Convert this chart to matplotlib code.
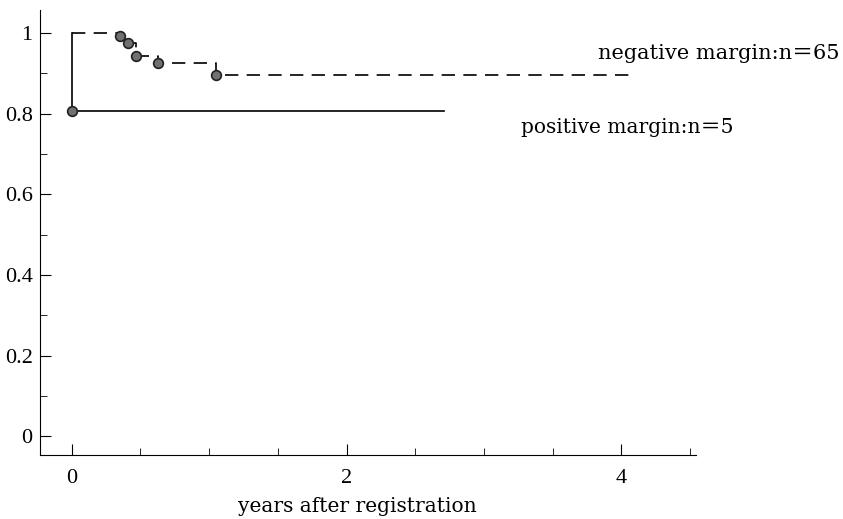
import matplotlib

matplotlib.use("Agg")
import matplotlib.pyplot as plt
from matplotlib.ticker import MultipleLocator

# negative margin (dashed step curve) and its marks
neg_t = [0.0, 0.35, 0.41, 0.47, 0.63, 1.05, 4.09]
neg_s = [1.0, 0.993, 0.975, 0.943, 0.925, 0.895, 0.895]
neg_mark_t = [0.35, 0.41, 0.47, 0.63, 1.05]
neg_mark_s = [0.993, 0.975, 0.943, 0.925, 0.895]

# positive margin (solid step curve)
pos_t = [0.0, 0.0, 2.71]
pos_s = [1.0, 0.806, 0.806]
pos_mark_t = [0.0]
pos_mark_s = [0.806]

y_ticks = [0, 0.2, 0.4, 0.6, 0.8, 1.0]
y_tick_labels = ["0", "0.2", "0.4", "0.6", "0.8", "1"]
x_ticks = [0, 2, 4]
x_tick_labels = ["0", "2", "4"]

plt.rcParams["font.family"] = ["Liberation Serif", "Noto Sans CJK JP", "DejaVu Sans"]
text_font = ["DejaVu Serif", "Noto Sans CJK JP"]

fig = plt.figure(figsize=(8.43, 5.19), dpi=100)
ax = fig.add_axes([0.047, 0.123, 0.779, 0.858])

ax.step(neg_t, neg_s, where="post", color="black", lw=1.2,
        linestyle=(0, (8, 5)))
ax.plot(pos_t, pos_s, color="black", lw=1.2)
ax.plot(neg_mark_t, neg_mark_s, "o", ms=7, mfc="#707070", mec="#202020", mew=1.2)
ax.plot(pos_mark_t, pos_mark_s, "o", ms=7, mfc="#707070", mec="#202020", mew=1.2)

ax.set_xlim(-0.233, 4.545)
ax.set_ylim(-0.047, 1.057)
ax.spines["top"].set_visible(False)
ax.spines["right"].set_visible(False)

ax.set_yticks(y_ticks)
ax.set_yticklabels(y_tick_labels)
ax.yaxis.set_minor_locator(MultipleLocator(0.1))
ax.set_xticks(x_ticks)
ax.set_xticklabels(x_tick_labels)
ax.xaxis.set_minor_locator(MultipleLocator(0.5))
ax.tick_params(axis="both", which="both", direction="in", labelsize=16)
ax.tick_params(axis="both", which="major", length=8)
ax.tick_params(axis="both", which="minor", length=5)
ax.tick_params(axis="y", pad=5)
ax.tick_params(axis="x", pad=10)

ax.text(3.83, 0.95, "negative margin:n＝65", fontsize=15, family=text_font,
        ha="left", va="center", clip_on=False)
ax.text(3.27, 0.765, "positive margin:n＝5", fontsize=14.5, family=text_font,
        ha="left", va="center", clip_on=False)

ax.set_xlabel("years after registration", fontsize=14.5, family=text_font)
ax.xaxis.set_label_coords(0.484, -0.093)

fig.savefig("out.png", dpi=100)
